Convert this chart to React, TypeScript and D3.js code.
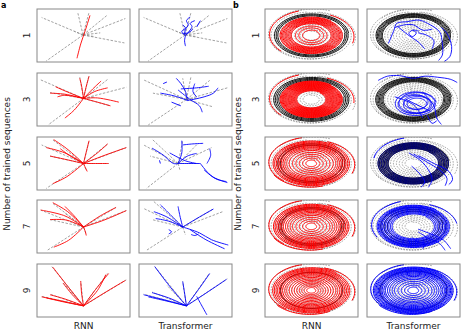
import React from "react";
import * as d3 from "d3";

// ---------- labels ----------
const ROW_LABELS = ["1", "3", "5", "7", "9"];
const MODEL_LABELS = ["RNN", "Transformer"];
const Y_TITLE = "Number of trained sequences";
const PANEL_TAGS = ["a", "b"];

// ---------- panel a data (fractions of panel, y from top) ----------
const A_CENTER_RNN = [[0.495, 0.49], [0.5, 0.48], [0.5, 0.5], [0.5, 0.51], [0.5, 0.79]];
const A_CENTER_TF = [[0.495, 0.49], [0.51, 0.5], [0.42, 0.5], [0.47, 0.51], [0.51, 0.79]];

const A_GRAY_RNN = [
  [[0.05, 0.16], [0.1, 0.98], [0.44, 0.08], [0.56, 0.06], [0.76, 0.11], [0.95, 0.18], [0.94, 0.64], [0.68, 0.45], [0.62, 0.52], [0.4, 0.42]],
  [[0.04, 0.13], [0.14, 0.37], [0.12, 0.98], [0.46, 0.08], [0.56, 0.04], [0.76, 0.12], [0.96, 0.27], [0.79, 0.62], [0.62, 0.45]],
  [[0.05, 0.15], [0.16, 0.04], [0.14, 0.36], [0.1, 0.97], [0.56, 0.07], [0.76, 0.13], [0.96, 0.2], [0.77, 0.5], [0.53, 0.62]],
  [[0.04, 0.19], [0.16, 0.05], [0.14, 0.37], [0.11, 0.95], [0.85, 0.14], [0.96, 0.2], [0.53, 0.65], [0.3, 0.25]],
  [[0.16, 0.05], [0.76, 0.17], [0.96, 0.3], [0.05, 0.61], [0.14, 0.57], [0.28, 0.35], [0.47, 0.33]],
];
const A_GRAY_TF = [
  [[0.05, 0.16], [0.1, 0.98], [0.44, 0.08], [0.56, 0.06], [0.76, 0.11], [0.95, 0.18], [0.94, 0.64], [0.68, 0.45], [0.62, 0.52], [0.4, 0.42]],
  [[0.05, 0.13], [0.15, 0.38], [0.1, 0.98], [0.47, 0.1], [0.56, 0.06], [0.76, 0.14], [0.95, 0.28], [0.8, 0.64], [0.63, 0.47]],
  [[0.05, 0.15], [0.14, 0.04], [0.12, 0.36], [0.08, 0.97], [0.47, 0.07], [0.63, 0.13], [0.78, 0.2], [0.64, 0.5], [0.44, 0.62]],
  [[0.05, 0.16], [0.16, 0.03], [0.14, 0.37], [0.08, 0.95], [0.8, 0.17], [0.9, 0.22], [0.5, 0.66]],
  [[0.17, 0.05], [0.76, 0.17], [0.95, 0.28], [0.05, 0.57], [0.14, 0.53], [0.47, 0.33], [0.3, 0.4]],
];

const A_RNN_TRAJ = [
  [[[0.43, 0.93], [0.47, 0.66], [0.52, 0.4], [0.57, 0.12]]],
  [
    [[0.5, 0.48], [0.33, 0.36], [0.2, 0.26]],
    [[0.5, 0.48], [0.3, 0.4], [0.14, 0.38]],
    [[0.5, 0.48], [0.4, 0.7], [0.3, 0.85]],
    [[0.5, 0.48], [0.48, 0.25], [0.46, 0.1]],
    [[0.5, 0.48], [0.53, 0.25], [0.56, 0.06]],
    [[0.5, 0.48], [0.6, 0.3], [0.69, 0.15]],
    [[0.5, 0.48], [0.62, 0.35], [0.76, 0.28]],
    [[0.5, 0.48], [0.65, 0.55], [0.79, 0.62]],
    [[0.5, 0.48], [0.65, 0.47], [0.88, 0.55]],
    [[0.5, 0.48], [0.3, 0.42], [0.22, 0.45]],
  ],
  [
    [[0.5, 0.5], [0.32, 0.22], [0.18, 0.05]],
    [[0.5, 0.5], [0.3, 0.3], [0.1, 0.2]],
    [[0.5, 0.5], [0.3, 0.42], [0.14, 0.36]],
    [[0.5, 0.5], [0.32, 0.75], [0.17, 0.88]],
    [[0.5, 0.5], [0.53, 0.28], [0.56, 0.07]],
    [[0.5, 0.5], [0.65, 0.3], [0.76, 0.13]],
    [[0.5, 0.5], [0.72, 0.35], [0.96, 0.2]],
    [[0.5, 0.5], [0.65, 0.5], [0.77, 0.5]],
    [[0.5, 0.5], [0.52, 0.58], [0.54, 0.65]],
    [[0.5, 0.5], [0.35, 0.35], [0.25, 0.22]],
  ],
  [
    [[0.5, 0.51], [0.33, 0.22], [0.17, 0.05]],
    [[0.5, 0.51], [0.3, 0.3], [0.04, 0.19]],
    [[0.5, 0.51], [0.32, 0.38], [0.14, 0.37]],
    [[0.5, 0.51], [0.34, 0.76], [0.18, 0.89]],
    [[0.5, 0.51], [0.68, 0.3], [0.85, 0.14]],
    [[0.5, 0.51], [0.72, 0.38], [0.96, 0.2]],
    [[0.5, 0.51], [0.52, 0.6], [0.53, 0.67]],
    [[0.5, 0.51], [0.4, 0.3], [0.3, 0.12]],
  ],
  [
    [[0.5, 0.79], [0.33, 0.42], [0.17, 0.06]],
    [[0.5, 0.79], [0.63, 0.48], [0.77, 0.18]],
    [[0.5, 0.79], [0.72, 0.55], [0.95, 0.31]],
    [[0.5, 0.79], [0.27, 0.7], [0.05, 0.62]],
    [[0.5, 0.79], [0.3, 0.66], [0.14, 0.58]],
    [[0.5, 0.79], [0.38, 0.58], [0.28, 0.36]],
    [[0.5, 0.79], [0.48, 0.56], [0.47, 0.32]],
    [[0.5, 0.79], [0.3, 0.72], [0.1, 0.64]],
    [[0.5, 0.79], [0.65, 0.5], [0.74, 0.2]],
  ],
];

const A_TF_TRAJ = [
  [
    [[0.49, 0.5], [0.5, 0.38], [0.53, 0.3], [0.51, 0.22], [0.55, 0.15]],
    [[0.5, 0.5], [0.54, 0.42], [0.57, 0.33], [0.55, 0.27], [0.6, 0.22]],
    [[0.48, 0.48], [0.46, 0.42], [0.5, 0.36], [0.47, 0.3]],
    [[0.5, 0.5], [0.49, 0.6], [0.5, 0.7]],
    [[0.62, 0.34], [0.66, 0.22]],
    [[0.47, 0.46], [0.53, 0.45], [0.58, 0.38]],
  ],
  [
    [[0.26, 0.2], [0.3, 0.17]],
    [[0.23, 0.38], [0.35, 0.42], [0.45, 0.47], [0.52, 0.52]],
    [[0.4, 0.1], [0.45, 0.2], [0.5, 0.35], [0.52, 0.52]],
    [[0.45, 0.3], [0.62, 0.28], [0.75, 0.25]],
    [[0.42, 0.32], [0.55, 0.5], [0.65, 0.62], [0.68, 0.74]],
    [[0.52, 0.52], [0.7, 0.45], [0.8, 0.38], [0.85, 0.28]],
    [[0.35, 0.55], [0.45, 0.62]],
    [[0.6, 0.2], [0.58, 0.35], [0.62, 0.45]],
  ],
  [
    [[0.14, 0.21], [0.26, 0.34], [0.37, 0.5], [0.42, 0.5]],
    [[0.46, 0.07], [0.46, 0.3], [0.42, 0.5]],
    [[0.47, 0.15], [0.58, 0.13], [0.69, 0.12]],
    [[0.42, 0.5], [0.52, 0.36], [0.62, 0.31]],
    [[0.42, 0.5], [0.55, 0.5], [0.66, 0.5]],
    [[0.66, 0.5], [0.75, 0.69], [0.84, 0.8], [0.94, 0.84]],
    [[0.7, 0.62], [0.8, 0.76], [0.95, 0.86]],
    [[0.76, 0.22], [0.77, 0.35], [0.73, 0.5]],
    [[0.22, 0.44], [0.23, 0.5]],
    [[0.33, 0.3], [0.5, 0.45], [0.62, 0.5]],
  ],
  [
    [[0.47, 0.51], [0.35, 0.3], [0.23, 0.09]],
    [[0.47, 0.51], [0.3, 0.32], [0.16, 0.22]],
    [[0.47, 0.51], [0.32, 0.4], [0.18, 0.35]],
    [[0.47, 0.51], [0.44, 0.3], [0.42, 0.12]],
    [[0.47, 0.51], [0.65, 0.32], [0.8, 0.17]],
    [[0.47, 0.51], [0.65, 0.62], [0.78, 0.75], [0.96, 0.85]],
    [[0.55, 0.56], [0.72, 0.75], [0.92, 0.92]],
    [[0.32, 0.56], [0.35, 0.6], [0.32, 0.64]],
    [[0.56, 0.65], [0.6, 0.67], [0.64, 0.64]],
  ],
  [
    [[0.51, 0.79], [0.33, 0.42], [0.17, 0.05]],
    [[0.51, 0.79], [0.64, 0.48], [0.76, 0.18]],
    [[0.51, 0.79], [0.72, 0.55], [0.94, 0.29]],
    [[0.51, 0.79], [0.28, 0.68], [0.05, 0.58]],
    [[0.51, 0.79], [0.32, 0.64], [0.14, 0.54]],
    [[0.51, 0.79], [0.49, 0.55], [0.47, 0.33]],
    [[0.62, 0.61], [0.67, 0.77], [0.73, 0.96]],
    [[0.51, 0.79], [0.3, 0.7], [0.1, 0.62]],
  ],
];

// ---------- panel b data (normalised ellipse radius; arms: [r0, r1, a0deg, a1deg]) ----------
const B_GRAY_RINGS = [0.18, 0.25, 0.32, 0.39, 0.46, 0.53, 0.6, 0.67, 0.74, 0.81, 0.88, 0.95];
const B_GRAY_ARMS = [[1.1, 1.0, 95, 215], [1.08, 0.98, -30, 75], [1.02, 0.96, 200, 300], [1.12, 1.05, 60, 130]];
const B_BLACK_RNN = [
  [0.8, 0.84, 0.88],
  [0.78, 0.82, 0.86, 0.9],
  [0.74, 0.8],
  [0.72, 0.78],
  [0.74],
];
const B_BLACK_TF = [
  [0.74, 0.77, 0.8, 0.83, 0.86, 0.89],
  [0.72, 0.75, 0.78, 0.81, 0.84, 0.87, 0.9],
  [0.6, 0.63, 0.66, 0.69, 0.72, 0.75, 0.78, 0.81, 0.84],
  [0.62, 0.7, 0.78],
  [0.8],
];
const B_RNN_RINGS = [
  [0.2, 0.29, 0.37, 0.47, 0.5, 0.53, 0.56, 0.59, 0.62, 0.65, 0.68, 0.71, 0.74],
  [0.34, 0.36, 0.38, 0.4, 0.42, 0.44, 0.46, 0.48, 0.5, 0.52, 0.54, 0.56, 0.58, 0.6, 0.62, 0.64, 0.66, 0.68, 0.7, 0.72, 0.74],
  [0.12, 0.2, 0.28, 0.36, 0.44, 0.52, 0.58, 0.63, 0.67, 0.71, 0.75, 0.79, 0.83, 0.87, 0.91],
  [0.12, 0.2, 0.28, 0.36, 0.44, 0.5, 0.56, 0.61, 0.66, 0.7, 0.74, 0.78, 0.82, 0.86, 0.9],
  [0.1, 0.16, 0.22, 0.28, 0.34, 0.4, 0.46, 0.52, 0.58, 0.63, 0.68, 0.72, 0.76, 0.8, 0.84, 0.88, 0.92],
];
const B_RNN_ARMS = [
  [[1.06, 0.98, 100, 215], [1.04, 0.96, -25, 55]],
  [[1.06, 0.98, 100, 215], [1.03, 0.96, -15, 60]],
  [[1.1, 0.98, 95, 220], [1.06, 0.98, -30, 60], [1.02, 0.97, 200, 280]],
  [[1.1, 0.98, 95, 220], [1.06, 0.98, -30, 60], [1.02, 0.97, 200, 280]],
  [[1.1, 0.98, 95, 225], [1.06, 0.98, -30, 65], [1.03, 0.97, 210, 290]],
];
const B_TF_RINGS = [
  [],
  [],
  [0.6, 0.64, 0.68, 0.72, 0.76, 0.8, 0.84],
  [0.5, 0.54, 0.58, 0.62, 0.66, 0.7, 0.74, 0.77, 0.8, 0.83, 0.86],
  [0.12, 0.2, 0.28, 0.36, 0.44, 0.5, 0.56, 0.61, 0.66, 0.7, 0.74, 0.77, 0.8, 0.83, 0.86, 0.89, 0.92, 0.95],
];
const B_TF_RING_COLOR = ["#0000ff", "#0000ff", "#000078", "#0000ff", "#0000ff"];
const B_TF_ARMS = [
  [],
  [],
  [[1.08, 0.98, 95, 160]],
  [[1.08, 0.98, 100, 200], [1.05, 0.98, 0, 60]],
  [[1.1, 0.98, 95, 225], [1.06, 0.98, -30, 65], [1.03, 0.97, 210, 290]],
];
// Transformer loops (row "3"): [cx, cy, r]
const B_TF_LOOPS = [[0.05, -0.18, 0.5], [0.08, -0.15, 0.44], [0.02, -0.2, 0.4], [0.1, -0.22, 0.35], [0.06, -0.12, 0.3], [0.08, -0.18, 0.24]];
// Transformer stray trajectories (panel fractions)
const B_TF_STRAYS = [
  [
    [[0.23, 0.65], [0.29, 0.4], [0.32, 0.27], [0.43, 0.24], [0.56, 0.21], [0.65, 0.27], [0.78, 0.43], [0.81, 0.65], [0.81, 0.87], [0.77, 0.97]],
    [[0.8, 0.35], [0.86, 0.46], [0.91, 0.71], [0.89, 0.9], [0.83, 0.99]],
    [[0.49, 0.4], [0.53, 0.45], [0.49, 0.52], [0.45, 0.46], [0.49, 0.4], [0.56, 0.42]],
    [[0.33, 0.33], [0.45, 0.5], [0.55, 0.62], [0.62, 0.75]],
    [[0.3, 0.35], [0.4, 0.3], [0.5, 0.3], [0.6, 0.4], [0.7, 0.38]],
    [[0.55, 0.45], [0.65, 0.5], [0.72, 0.6], [0.7, 0.75]],
  ],
  [
    [[0.12, 0.14], [0.22, 0.06], [0.35, 0.05], [0.5, 0.1], [0.62, 0.06], [0.76, 0.08], [0.9, 0.12], [0.97, 0.18]],
    [[0.42, 0.5], [0.68, 0.72]],
    [[0.6, 0.36], [0.72, 0.62], [0.75, 0.85], [0.8, 0.97]],
    [[0.65, 0.8], [0.7, 0.95], [0.75, 0.9]],
    [[0.3, 0.45], [0.5, 0.6], [0.6, 0.85]],
  ],
  [
    [[0.45, 0.3], [0.58, 0.45], [0.66, 0.62], [0.7, 0.8], [0.66, 0.95]],
    [[0.5, 0.32], [0.65, 0.48], [0.78, 0.62], [0.86, 0.78], [0.84, 0.92]],
    [[0.55, 0.35], [0.72, 0.5], [0.88, 0.65], [0.92, 0.8], [0.88, 0.9]],
    [[0.48, 0.55], [0.56, 0.68], [0.62, 0.85], [0.58, 0.95]],
  ],
  [
    [[0.55, 0.55], [0.7, 0.65], [0.82, 0.75], [0.9, 0.92]],
    [[0.55, 0.6], [0.66, 0.72], [0.78, 0.82], [0.84, 0.95]],
    [[0.48, 0.7], [0.55, 0.8], [0.62, 0.82], [0.6, 0.92]],
  ],
  [],
];

// ---------- layout ----------
const W = 462;
const H = 333;
const A_X = [37, 139];
const B_X = [265, 367];
const ROW_Y = [9, 73, 137, 200, 264];
const PW = 93;
const PH = 53;
const ROT = 0.12;
const FONT = "DejaVu Sans, sans-serif";
const RED = "#ff0000";
const BLUE = "#0000ff";

type P = [number, number];

function ell(cx: number, cy: number, r0: number, r1: number, a0: number, a1: number): P[] {
  const n = Math.max(24, Math.round(Math.abs(a1 - a0) / 4));
  return d3.range(n + 1).map((i) => {
    const t = i / n;
    const a = ((a0 + (a1 - a0) * t) * Math.PI) / 180;
    const r = r0 + (r1 - r0) * t;
    const x = r * Math.cos(a);
    const y = r * Math.sin(a);
    return [cx + x * Math.cos(ROT) - y * Math.sin(ROT), cy + x * Math.sin(ROT) + y * Math.cos(ROT)] as P;
  });
}

function PanelA({ x0, y0, center, gray, traj, color, id }: any) {
  const xs = d3.scaleLinear().domain([0, 1]).range([x0, x0 + PW]);
  const ys = d3.scaleLinear().domain([0, 1]).range([y0, y0 + PH]);
  const straight = d3.line<number[]>().x((d) => xs(d[0])).y((d) => ys(d[1]));
  const curved = d3
    .line<number[]>()
    .x((d) => xs(d[0]))
    .y((d) => ys(d[1]))
    .curve(d3.curveCatmullRom.alpha(0.5));
  return (
    <g>
      <clipPath id={id}>
        <rect x={x0} y={y0} width={PW} height={PH} />
      </clipPath>
      <g clipPath={`url(#${id})`}>
        {gray.map((e: P, i: number) => (
          <path key={"g" + i} d={straight([center, e]) || ""} fill="none" stroke="#8a8a8a" strokeWidth={0.8} strokeDasharray="2.5,1.5" />
        ))}
        {traj.map((pts: P[], i: number) => (
          <path key={"t" + i} d={curved(pts) || ""} fill="none" stroke={color} strokeWidth={0.9} />
        ))}
      </g>
      <rect x={x0} y={y0} width={PW} height={PH} fill="none" stroke="#888" strokeWidth={1} />
    </g>
  );
}

function PanelB({ x0, y0, rings, ringColor, arms, black, color, loops, strays, id }: any) {
  const xs = d3.scaleLinear().domain([-1.12, 1.12]).range([x0, x0 + PW]);
  const ys = d3.scaleLinear().domain([-1.1, 1.1]).range([y0 + PH, y0]);
  const fx = d3.scaleLinear().domain([0, 1]).range([x0, x0 + PW]);
  const fy = d3.scaleLinear().domain([0, 1]).range([y0, y0 + PH]);
  const line = d3.line<P>().x((d) => xs(d[0])).y((d) => ys(d[1]));
  const fline = d3
    .line<number[]>()
    .x((d) => fx(d[0]))
    .y((d) => fy(d[1]))
    .curve(d3.curveCatmullRom.alpha(0.5));
  return (
    <g>
      <clipPath id={id}>
        <rect x={x0} y={y0} width={PW} height={PH} />
      </clipPath>
      <g clipPath={`url(#${id})`}>
        {B_GRAY_RINGS.map((r, i) => (
          <path key={"gr" + i} d={line(ell(0, 0, r + 0.03, r, 90, 450)) || ""} fill="none" stroke="#6a6a6a" strokeWidth={0.6} strokeDasharray="1.6,1.2" />
        ))}
        {B_GRAY_ARMS.map((a, i) => (
          <path key={"ga" + i} d={line(ell(0, 0, a[0], a[1], a[2], a[3])) || ""} fill="none" stroke="#6a6a6a" strokeWidth={0.6} strokeDasharray="1.6,1.2" />
        ))}
        {black.map((r: number, i: number) => (
          <path key={"bk" + i} d={line(ell(0, 0, r + 0.02, r, 0, 360)) || ""} fill="none" stroke="#111" strokeWidth={1} />
        ))}
        {rings.map((r: number, i: number) => (
          <path key={"c" + i} d={line(ell(0, 0, r + 0.025, r, 45, 405)) || ""} fill="none" stroke={ringColor || color} strokeWidth={1} />
        ))}
        {arms.map((a: number[], i: number) => (
          <path key={"ca" + i} d={line(ell(0, 0, a[0], a[1], a[2], a[3])) || ""} fill="none" stroke={color} strokeWidth={1} />
        ))}
        {loops.map((l: number[], i: number) => (
          <path key={"lp" + i} d={line(ell(l[0], l[1], l[2], l[2] * 0.95, 0, 360)) || ""} fill="none" stroke={color} strokeWidth={0.9} />
        ))}
        {strays.map((pts: P[], i: number) => (
          <path key={"s" + i} d={fline(pts) || ""} fill="none" stroke={color} strokeWidth={0.9} />
        ))}
      </g>
      <rect x={x0} y={y0} width={PW} height={PH} fill="none" stroke="#888" strokeWidth={1} />
    </g>
  );
}

export default function App() {
  const textFill = "#222";
  return (
    <svg width={W} height={H} style={{ position: "absolute", left: 0, top: 0, background: "#fff" }} fontFamily={FONT}>
      <rect x={0} y={0} width={W} height={H} fill="#fff" />
      {ROW_LABELS.map((lab, r) => (
        <g key={"row" + r}>
          <PanelA x0={A_X[0]} y0={ROW_Y[r]} center={A_CENTER_RNN[r]} gray={A_GRAY_RNN[r]} traj={A_RNN_TRAJ[r]} color={RED} id={`a0${r}`} />
          <PanelA x0={A_X[1]} y0={ROW_Y[r]} center={A_CENTER_TF[r]} gray={A_GRAY_TF[r]} traj={A_TF_TRAJ[r]} color={BLUE} id={`a1${r}`} />
          <PanelB x0={B_X[0]} y0={ROW_Y[r]} rings={B_RNN_RINGS[r]} arms={B_RNN_ARMS[r]} black={B_BLACK_RNN[r]} color={RED} loops={[]} strays={[]} id={`b0${r}`} />
          <PanelB
            x0={B_X[1]}
            y0={ROW_Y[r]}
            rings={B_TF_RINGS[r]}
            ringColor={B_TF_RING_COLOR[r]}
            arms={B_TF_ARMS[r]}
            black={B_BLACK_TF[r]}
            color={BLUE}
            loops={r === 1 ? B_TF_LOOPS : []}
            strays={B_TF_STRAYS[r]}
            id={`b1${r}`}
          />
          <text transform={`translate(30,${ROW_Y[r] + PH / 2}) rotate(-90)`} textAnchor="middle" fontSize={9} fill={textFill}>
            {lab}
          </text>
          <text transform={`translate(259,${ROW_Y[r] + PH / 2}) rotate(-90)`} textAnchor="middle" fontSize={9} fill={textFill}>
            {lab}
          </text>
        </g>
      ))}
      <text transform={`translate(10,164) rotate(-90)`} textAnchor="middle" fontSize={9} fill={textFill}>
        {Y_TITLE}
      </text>
      <text transform={`translate(241,164) rotate(-90)`} textAnchor="middle" fontSize={9} fill={textFill}>
        {Y_TITLE}
      </text>
      {MODEL_LABELS.map((m, i) => (
        <g key={m}>
          <text x={A_X[i] + PW / 2} y={329} textAnchor="middle" fontSize={9} fill={textFill}>
            {m}
          </text>
          <text x={B_X[i] + PW / 2} y={329} textAnchor="middle" fontSize={9} fill={textFill}>
            {m}
          </text>
        </g>
      ))}
      <text x={1} y={8} fontSize={8} fontWeight="bold" fill="#000">
        {PANEL_TAGS[0]}
      </text>
      <text x={233} y={8} fontSize={8} fontWeight="bold" fill="#000">
        {PANEL_TAGS[1]}
      </text>
    </svg>
  );
}
